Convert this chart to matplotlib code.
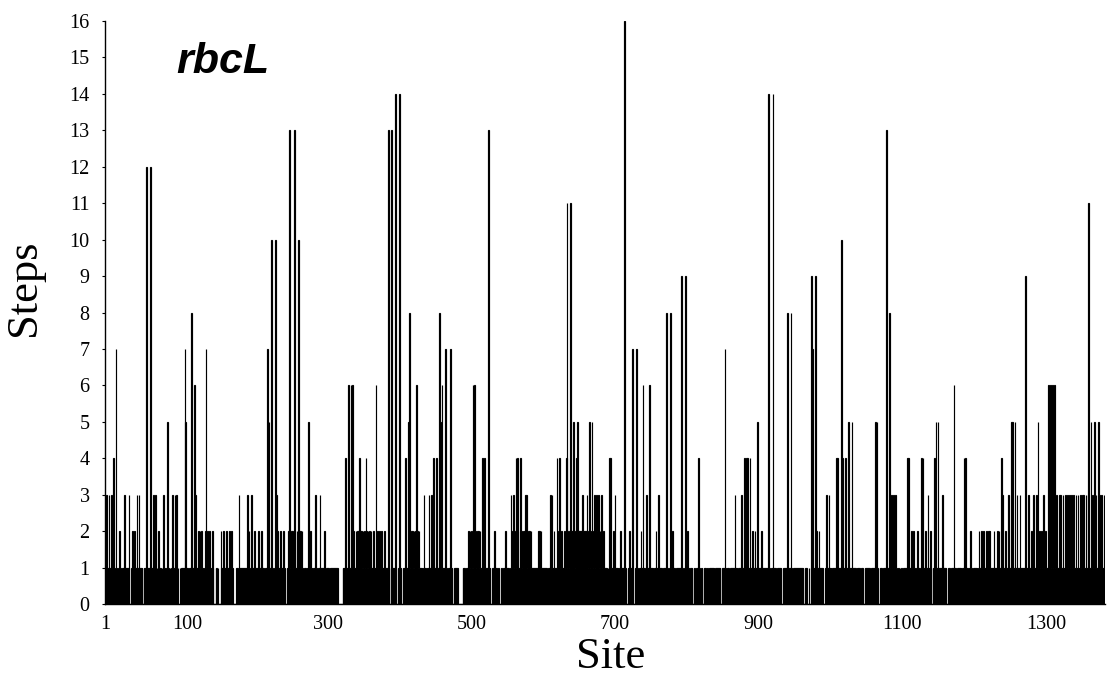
import numpy as np
import matplotlib
matplotlib.use("Agg")
import matplotlib.pyplot as plt
from matplotlib.transforms import ScaledTranslation

# Steps per site, one character per site (base-36 digit: 'a'=10 ... 'g'=16)
steps_0001_0200 = (
    "1131131113" "1410171010" "2100111311" "1113001121" "0211311311"
    "1100111c11" "111c111311" "3010210101" "0311011510" "1011311313"
    "0100101111" "1751100111" "8111613111" "2121211012" "7121021102"
    "1000110100" "0211021112" "1012102100" "0001103111" "1111110131"
)
steps_0201_0400 = (
    "2101311121" "0112111021" "1001117151" "1a11001a31" "2111211121"
    "1001121d12" "121d21121a" "2121210111" "0115102110" "1113100113"
    "1111120011" "1101111011" "1111000000" "0111141116" "1161612112"
    "1212421212" "1214212121" "2111211612" "1121121112" "1111d1001d"
)
steps_0401_0600 = (
    "1111e10011" "e110011141" "1151812121" "2126121211" "1101311011"
    "1311311411" "1411181516" "1111710011" "1711001111" "1100000011"
    "1001112121" "2161612121" "2121141141" "1111d11001" "1121110110"
    "0110011211" "1110131213" "1241421141" "2121231312" "1212111011"
)
steps_0601_0800 = (
    "1112121211" "1011110101" "3131121114" "1214121111" "214b1211b2"
    "1252214252" "2122132212" "2321521252" "1321312312" "1311211110"
    "1041411121" "3111101121" "111g110011" "2111710011" "7100112116"
    "1101311161" "1111011211" "1311110111" "1181001811" "2111001111"
)
steps_0801_1000 = (
    "1119100191" "1211011100" "1101114110" "1100111011" "0111101110"
    "1101111001" "1117101110" "0110111311" "1011113111" "4114141141"
    "1211121151" "1111211111" "1111e10011" "e111101111" "1100011111"
    "8111181001" "1101111110" "1110011100" "1001971119" "1211211011"
)
steps_1001_1200 = (
    "0001131131" "1101111141" "41111a1411" "1411151111" "5110110111"
    "1101110011" "1011100111" "1115151001" "11001111d1" "1181131131"
    "1310110101" "0011011414" "1112112110" "1211101414" "1121113112"
    "1001141511" "5111113111" "1100111001" "1161100111" "1110114141"
)
steps_1201_1393 = (
    "1101121101" "1111101211" "2112111211" "2121111121" "1112121141"
    "3111211131" "1151511511" "3111311111" "1191113111" "2113111315"
    "1211211311" "2111611616" "1161131113" "1311311311" "3113113113"
    "1131131131" "1313113113" "b115131151" "3115131131" "131"
)

x_tick_values = [1, 100, 300, 500, 700, 900, 1100, 1300]
y_tick_values = list(range(0, 17))

codes = (steps_0001_0200 + steps_0201_0400 + steps_0401_0600 + steps_0601_0800
         + steps_0801_1000 + steps_1001_1200 + steps_1201_1393)
steps = np.array([int(c, 36) for c in codes])
sites = np.arange(1, len(steps) + 1)

fig = plt.figure(figsize=(11.07, 6.85), dpi=100)
ax = fig.add_axes([105 / 1107, 1 - 604 / 685, 1000 / 1107, (604 - 21) / 685])

ax.bar(sites, steps, width=1.0, facecolor="white", edgecolor="black",
       linewidth=0.85, align="center")

ax.set_xlim(0.5, len(steps) + 0.5)
ax.set_ylim(0, 16)

serif = "Liberation Serif"
ax.set_yticks(y_tick_values)
ax.set_yticklabels([str(v) for v in y_tick_values], fontfamily=serif, fontsize=14.5)
ax.tick_params(axis="y", direction="out", length=2, width=0.8, pad=9)

ax.set_xticks(x_tick_values)
ax.set_xticklabels([str(v) for v in x_tick_values], fontfamily=serif, fontsize=14.5)
ax.tick_params(axis="x", length=0, pad=8)
shifts = {"1": 0, "100": 11}
for lab in ax.get_xticklabels():
    dx = shifts.get(lab.get_text(), 8)
    lab.set_transform(lab.get_transform() + ScaledTranslation(dx / 100, 0, fig.dpi_scale_trans))

for s in ("top", "right"):
    ax.spines[s].set_visible(False)
ax.spines["left"].set_linewidth(1.0)
ax.spines["bottom"].set_linewidth(1.0)

fig.text(24 / 1107, 1 - 288 / 685, "Steps", rotation=90, ha="center", va="center",
         fontfamily=serif, fontsize=32)
fig.text(611 / 1107, 1 - 657 / 685, "Site", ha="center", va="center",
         fontfamily=serif, fontsize=32)
fig.text(176 / 1107, 1 - 62 / 685, "rbcL", ha="left", va="center",
         fontfamily="Liberation Sans", fontweight="bold", fontstyle="italic",
         fontsize=31)

fig.savefig("out.png", dpi=100)
